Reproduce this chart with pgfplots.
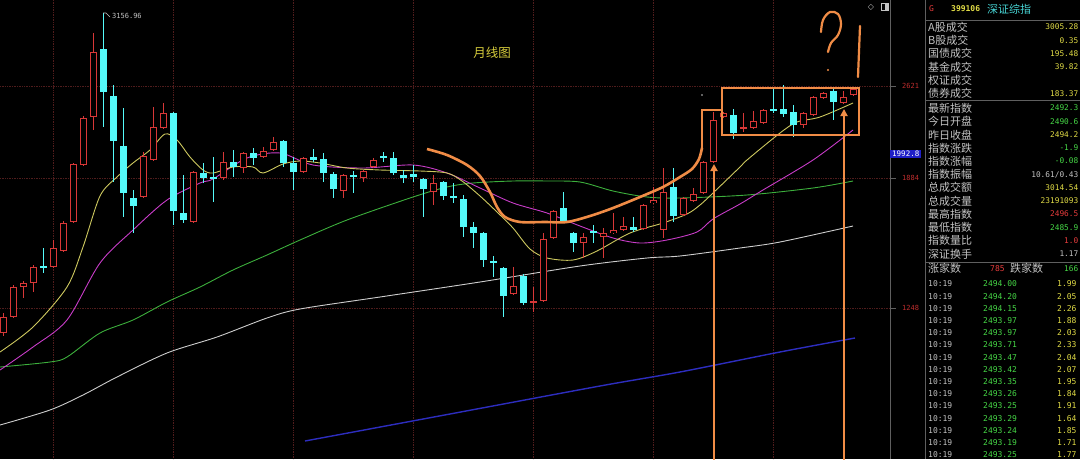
\documentclass[border=0pt]{standalone}
\usepackage{pgfplots}
\usepackage{pgfplotstable}
\pgfplotsset{compat=1.18}
\usepackage{fontspec}
\setmainfont{Liberation Sans}
\newfontfamily\cjk{Noto Sans CJK SC}
\newfontfamily\mono{DejaVu Sans Mono}
\newfontfamily\sym{DejaVu Sans}
\usetikzlibrary{arrows.meta}

\definecolor{upred}{RGB}{215,55,55}
\definecolor{dncyan}{RGB}{84,250,250}
\definecolor{ma5}{RGB}{205,200,95}
\definecolor{ma10}{RGB}{200,60,200}
\definecolor{ma20}{RGB}{60,175,60}
\definecolor{ma60}{RGB}{205,205,205}
\definecolor{ma120}{RGB}{45,45,190}
\definecolor{anno}{RGB}{240,140,70}
\definecolor{gridc}{RGB}{80,28,28}
\definecolor{lbl}{RGB}{195,195,195}
\definecolor{vyel}{RGB}{225,220,70}
\definecolor{vgrn}{RGB}{70,215,70}
\definecolor{vred}{RGB}{230,60,60}
\definecolor{axred}{RGB}{190,45,45}
\definecolor{sepc}{RGB}{95,95,95}
\definecolor{titley}{RGB}{215,205,60}
\definecolor{boxblue}{RGB}{30,30,200}

% red (rising) candles: x, body top, body bottom, wick top, wick bottom (screen rows)
\pgfplotstableread{
x top bot hi lo
3 317 333 313 336
13 287 317 285 318
23 283 287 281 298
33 267 283 265 292
53 248 267 240 268
63 223 251 221 252
73 164 222 163 223
83 118 165 116 166
93 52 117 33 130
143 156 197 152 198
153 127 160 107 161
163 113 128 103 129
193 172 222 171 223
223 162 178 152 180
243 153 168 152 173
263 151 157 147 158
273 142 150 137 151
303 158 172 157 173
343 175 191 174 198
363 171 178 170 182
373 160 167 158 168
433 183 192 175 205
513 286 294 267 295
533 301 303 287 312
543 239 301 233 302
553 211 238 210 239
583 237 243 233 258
603 233 237 228 258
613 230 233 213 234
623 226 230 217 231
643 205 229 204 230
653 200 203 187 204
663 192 230 168 238
683 198 215 197 216
693 194 201 188 202
703 162 193 161 194
713 120 162 112 163
723 113 117 112 118
743 127 129 113 132
753 121 128 111 129
763 110 123 109 124
803 113 125 112 128
813 97 115 96 116
823 93 98 92 99
843 97 103 91 104
853 89 95 88 96
}\upcandles

% cyan (falling) candles
\pgfplotstableread{
x top bot hi lo
43 266 268 248 273
103 49 92 13 127
113 96 141 85 182
123 146 193 108 217
133 198 206 190 233
173 113 211 112 225
183 213 220 175 223
203 173 178 163 183
213 177 179 157 202
233 162 167 150 177
253 153 158 148 165
283 141 163 140 167
293 163 172 157 190
313 157 160 149 162
323 159 173 153 182
333 174 189 172 198
353 175 177 171 193
383 156 158 152 162
393 158 173 152 175
403 175 178 170 183
413 174 177 165 182
423 179 189 178 217
443 182 196 181 200
453 196 198 183 203
463 199 227 195 237
473 227 233 222 248
483 233 260 232 267
493 261 263 256 277
503 268 296 267 317
523 276 303 274 305
563 208 222 192 223
573 233 243 232 252
593 231 233 225 243
633 227 230 217 232
673 187 216 168 222
733 115 133 109 139
773 109 111 88 113
783 109 114 85 117
793 112 125 105 137
833 91 102 87 120
}\dncandles

\pgfplotsset{candle/.style={draw=none, mark=none, forget plot,
  error bars/y dir=both, error bars/y explicit, error bars/error mark=none,
  error bars/error bar style={#1}}}

\begin{document}
\begin{tikzpicture}
\begin{axis}[
  scale only axis, width=1080pt, height=459pt,
  xmin=0, xmax=1080, ymin=0, ymax=459, y dir=reverse,
  axis lines=none, xtick=\empty, ytick=\empty,
  axis background/.style={fill=black},
]
\fill[black] (rel axis cs:0,0) rectangle (rel axis cs:1,1);

% grid
\foreach \gx in {53,173,293,413,533,653,773}{
  \edef\tmp{\noexpand\draw[gridc, densely dotted, line width=0.7pt] (\gx,0) -- (\gx,459);}\tmp
}
\draw[gridc, densely dotted, line width=0.7pt] (0,86) -- (890,86);
\draw[gridc, densely dotted, line width=0.7pt] (0,178) -- (890,178);
\draw[gridc, densely dotted, line width=0.7pt] (0,308) -- (890,308);

% moving averages
\addplot[ma120, line width=1.4pt, smooth] coordinates {(305,441) (450,414) (600,386) (680,372) (780,352) (855,338)};
\addplot[ma60, line width=0.9pt, smooth] coordinates {(0,425) (50,410) (83,395) (117,377) (167,353) (217,337) (267,318) (300,309) (380,297) (480,282) (580,266) (647,258) (680,256) (740,248) (780,242) (853,226)};
\addplot[ma20, line width=0.9pt, smooth] coordinates {(0,367) (50,362) (67,357) (100,333) (133,320) (167,302) (200,287) (233,270) (267,255) (300,240) (347,220) (413,197) (447,187) (473,183) (513,181) (547,181) (580,182) (613,191) (647,197) (680,198) (747,195) (813,188) (853,181)};
\addplot[ma10, line width=0.9pt, smooth] coordinates {(0,370) (33,347) (67,320) (100,263) (133,230) (167,200) (200,183) (213,179) (247,158) (280,153) (313,165) (363,168) (413,165) (447,173) (480,188) (513,203) (547,213) (580,226) (613,238) (640,243) (667,240) (697,232) (713,219) (740,204) (763,190) (813,160) (853,130)};
\addplot[ma5, line width=0.9pt, smooth] coordinates {(0,352) (33,327) (67,287) (83,247) (100,196) (117,177) (133,163) (150,150) (165,134) (177,140) (190,157) (203,170) (213,173) (233,167) (253,167) (263,173) (283,164) (300,161) (320,163) (347,168) (380,170) (420,171) (447,173) (462,181) (480,196) (497,212) (513,228) (530,249) (547,258) (573,260) (597,251) (630,233) (663,223) (687,214) (700,205) (713,193) (740,167) (747,160) (780,133) (797,122) (820,117) (853,103)};

% candles: wicks
\addplot[candle={draw=upred, line width=1pt}]
  table[x=x, y expr=(\thisrow{hi}+\thisrow{lo})/2, y error expr=(\thisrow{lo}-\thisrow{hi})/2] {\upcandles};
\addplot[candle={draw=dncyan, line width=1pt}]
  table[x=x, y expr=(\thisrow{hi}+\thisrow{lo})/2, y error expr=(\thisrow{lo}-\thisrow{hi})/2] {\dncandles};
% candles: bodies
\addplot[candle={draw=upred, line width=7pt}]
  table[x=x, y expr=(\thisrow{top}+\thisrow{bot})/2, y error expr={max((\thisrow{bot}-\thisrow{top})/2,0.6)}] {\upcandles};
\addplot[candle={draw=black, line width=5pt}]
  table[x=x, y expr=(\thisrow{top}+\thisrow{bot})/2, y error expr={max((\thisrow{bot}-\thisrow{top})/2-1,0)}] {\upcandles};
\addplot[candle={draw=dncyan, line width=7pt}]
  table[x=x, y expr=(\thisrow{top}+\thisrow{bot})/2, y error expr={max((\thisrow{bot}-\thisrow{top})/2,0.6)}] {\dncandles};

% high label
\draw[lbl, line width=0.6pt] (103,13) -- (106,13) -- (110,17);
\node[anchor=west, inner sep=0, text=lbl, font=\mono\fontsize{7}{7}\selectfont] at (112,16) {3156.96};

% title
\node[text=titley, inner sep=0, font=\cjk\fontsize{12.5}{12.5}\selectfont] at (492,53) {月线图};

% annotations
\addplot[anno, line width=2.6pt, smooth, tension=0.5] coordinates {(427,149) (447,155) (467,165) (480,176) (490,192) (497,207) (505,217) (520,222) (545,222) (567,222) (590,216) (613,208) (640,197) (663,187) (680,177) (692,169) (699,159) (702,148)};
\draw[anno, line width=2.6pt] (702,148) -- (702,110) -- (722,110);
\draw[anno, line width=2.6pt] (722,88) rectangle (859,135);
\draw[anno, line width=2.4pt, -{Triangle[length=7pt,width=7pt]}] (714,460) -- (714,164);
\draw[anno, line width=2.4pt, -{Triangle[length=7pt,width=7pt]}] (844,460) -- (844,109);
\draw[anno, line width=2.2pt, line cap=round] plot[smooth, tension=0.6] coordinates {(821,32) (823,20) (830,12) (838,14) (841,24) (838,35) (831,43) (828,52)};
\fill[anno] (828,70) circle (1.2pt);
\draw[anno, line width=2.2pt, line cap=round] (860,26) -- (858,77);
\fill[lbl] (702,95) circle (0.8pt);

% right scale
\draw[sepc, line width=0.6pt] (890,0) -- (890,459);
\draw[sepc, line width=0.6pt] (890,178) -- (896,178);
\draw[sepc, line width=0.6pt] (890,308) -- (896,308);
\draw[sepc, line width=0.6pt] (890,86) -- (896,86);
\node[anchor=west, inner sep=0, text=axred, font=\mono\fontsize{7}{7}\selectfont] at (902,86) {2621};
\node[anchor=west, inner sep=0, text=axred, font=\mono\fontsize{7}{7}\selectfont] at (902,178) {1884};
\node[anchor=west, inner sep=0, text=axred, font=\mono\fontsize{7}{7}\selectfont] at (902,308) {1248};
\node[anchor=west, fill=boxblue, text=white, inner xsep=2pt, inner ysep=1.5pt, font=\mono\fontsize{7.5}{7.5}\selectfont] at (890,154) {1992.8};
\node[inner sep=0, text=lbl, font=\sym\fontsize{8}{8}\selectfont] at (871,7) {◇};
\draw[lbl, line width=0.6pt] (881,3) rectangle (888,10);
\fill[lbl] (884.5,3) rectangle (888,10);

% side panel
\draw[sepc, line width=0.7pt] (925,0) -- (925,459);
\draw[sepc, line width=0.6pt] (925,20.5) -- (1080,20.5);
\draw[sepc, line width=0.6pt] (925,100) -- (1080,100);
\draw[sepc, line width=0.6pt] (925,262) -- (1080,262);

\node[anchor=west, inner sep=0, text=vred, font=\mono\fontsize{8}{8}\selectfont] at (929,9) {G};
\node[anchor=west, inner sep=0, text=vyel, font=\mono\bfseries\fontsize{8}{8}\selectfont] at (951,9) {399106};
\node[anchor=west, inner sep=0, text=dncyan!85!black, font=\cjk\fontsize{11}{11}\selectfont] at (987,9) {深证综指};

\tikzset{lab/.style={anchor=west, inner sep=0, text=lbl, font=\cjk\fontsize{11}{11}\selectfont},
         val/.style={anchor=east, inner sep=0, font=\mono\fontsize{7.8}{7.8}\selectfont}}
\node[lab] at (928,27) {A股成交};   \node[val, text=vyel] at (1078.5,27) {3005.28};
\node[lab] at (928,40.5) {B股成交}; \node[val, text=vyel] at (1078.5,40.5) {0.35};
\node[lab] at (928,53.5) {国债成交}; \node[val, text=vyel] at (1078.5,53.5) {195.48};
\node[lab] at (928,67) {基金成交};   \node[val, text=vyel] at (1078.5,67) {39.82};
\node[lab] at (928,80) {权证成交};
\node[lab] at (928,93.5) {债券成交}; \node[val, text=vyel] at (1078.5,93.5) {183.37};
\node[lab] at (928,108) {最新指数};  \node[val, text=vgrn] at (1078.5,108) {2492.3};
\node[lab] at (928,121.5) {今日开盘}; \node[val, text=vgrn] at (1078.5,121.5) {2490.6};
\node[lab] at (928,135) {昨日收盘};  \node[val, text=vyel] at (1078.5,135) {2494.2};
\node[lab] at (928,148) {指数涨跌};  \node[val, text=vgrn] at (1078.5,148) {-1.9};
\node[lab] at (928,161) {指数涨幅};  \node[val, text=vgrn] at (1078.5,161) {-0.08};
\node[lab] at (928,174.5) {指数振幅}; \node[val, text=lbl] at (1078.5,174.5) {10.61/0.43};
\node[lab] at (928,187.7) {总成交额}; \node[val, text=vyel] at (1078.5,187.7) {3014.54};
\node[lab] at (928,201) {总成交量};  \node[val, text=vyel] at (1078.5,201) {23191093};
\node[lab] at (928,214) {最高指数};  \node[val, text=vred] at (1078.5,214) {2496.5};
\node[lab] at (928,227.3) {最低指数}; \node[val, text=vgrn] at (1078.5,227.3) {2485.9};
\node[lab] at (928,240.5) {指数量比}; \node[val, text=vred] at (1078.5,240.5) {1.0};
\node[lab] at (928,254) {深证换手};  \node[val, text=lbl] at (1078.5,254) {1.17};
\node[lab] at (928,268.5) {涨家数};  \node[anchor=west, inner sep=0, font=\mono\fontsize{8}{8}\selectfont, text=vred] at (990,268.5) {785};
\node[lab] at (1010,268.5) {跌家数}; \node[val, text=vgrn] at (1078.5,268.5) {166};

\tikzset{tm/.style={anchor=west, inner sep=0, text=lbl, font=\mono\fontsize{8}{8}\selectfont},
         pr/.style={anchor=west, inner sep=0, text=vgrn, font=\mono\fontsize{8}{8}\selectfont},
         vo/.style={anchor=west, inner sep=0, text=vyel, font=\mono\fontsize{8}{8}\selectfont}}
\node[tm] at (928,284) {10:19}; \node[pr] at (983,284) {2494.00}; \node[vo] at (1057,284) {1.99};
\node[tm] at (928,296.2) {10:19}; \node[pr] at (983,296.2) {2494.20}; \node[vo] at (1057,296.2) {2.05};
\node[tm] at (928,308.4) {10:19}; \node[pr] at (983,308.4) {2494.15}; \node[vo] at (1057,308.4) {2.26};
\node[tm] at (928,320.6) {10:19}; \node[pr] at (983,320.6) {2493.97}; \node[vo] at (1057,320.6) {1.88};
\node[tm] at (928,332.8) {10:19}; \node[pr] at (983,332.8) {2493.97}; \node[vo] at (1057,332.8) {2.03};
\node[tm] at (928,345) {10:19}; \node[pr] at (983,345) {2493.71}; \node[vo] at (1057,345) {2.33};
\node[tm] at (928,357.2) {10:19}; \node[pr] at (983,357.2) {2493.47}; \node[vo] at (1057,357.2) {2.04};
\node[tm] at (928,369.4) {10:19}; \node[pr] at (983,369.4) {2493.42}; \node[vo] at (1057,369.4) {2.07};
\node[tm] at (928,381.6) {10:19}; \node[pr] at (983,381.6) {2493.35}; \node[vo] at (1057,381.6) {1.95};
\node[tm] at (928,393.8) {10:19}; \node[pr] at (983,393.8) {2493.26}; \node[vo] at (1057,393.8) {1.84};
\node[tm] at (928,406) {10:19}; \node[pr] at (983,406) {2493.25}; \node[vo] at (1057,406) {1.91};
\node[tm] at (928,418.2) {10:19}; \node[pr] at (983,418.2) {2493.29}; \node[vo] at (1057,418.2) {1.64};
\node[tm] at (928,430.4) {10:19}; \node[pr] at (983,430.4) {2493.24}; \node[vo] at (1057,430.4) {1.85};
\node[tm] at (928,442.6) {10:19}; \node[pr] at (983,442.6) {2493.19}; \node[vo] at (1057,442.6) {1.71};
\node[tm] at (928,454.2) {10:19}; \node[pr] at (983,454.2) {2493.25}; \node[vo] at (1057,454.2) {1.77};

\coordinate (BBa) at (rel axis cs:0,0);
\coordinate (BBb) at (rel axis cs:1,1);
\end{axis}
\pgfresetboundingbox
\path[use as bounding box] (BBa) rectangle (BBb);
\end{tikzpicture}
\end{document}
